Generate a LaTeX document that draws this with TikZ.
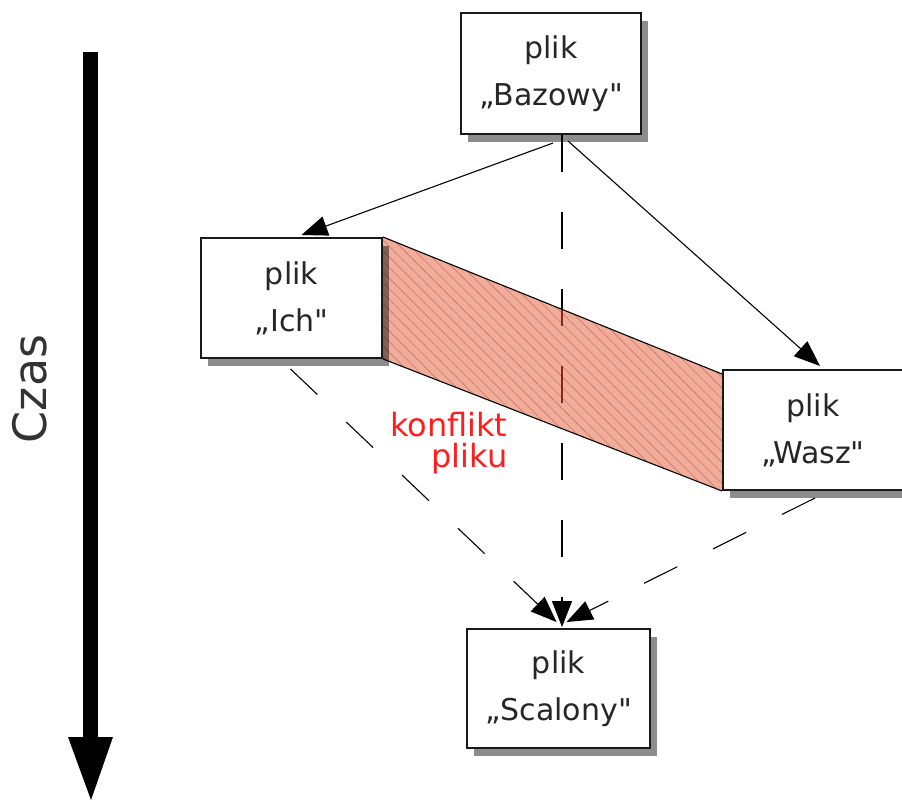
\documentclass[tikz,border=0pt]{standalone}
\usepackage{fontspec}
\setmainfont{DejaVu Sans}[Ligatures=TeXOff]
\usetikzlibrary{arrows.meta,shadows,patterns.meta,calc}
\pgfdeclarelayer{background}
\pgfsetlayers{background,main}
\definecolor{bandfill}{RGB}{242,172,154}
\definecolor{hatch}{RGB}{200,120,105}
\definecolor{confred}{RGB}{255,30,30}
\definecolor{dashinband}{RGB}{130,40,30}
\begin{document}
\begin{tikzpicture}[x=1pt,y=-1pt,
  filebox/.style={draw=black!90, line width=2pt, fill=white, inner sep=0pt, align=center,
    text=black!85, font=\fontsize{30}{47}\selectfont,
    general shadow={fill=black, opacity=0.45, shadow xshift=7pt, shadow yshift=-8pt}},
  solidarrow/.style={line width=1.1pt, -{Triangle[length=26pt,width=20pt]}},
  dasharrow/.style={solidarrow, dash pattern=on 37pt off 40pt},
  bandedge/.style={line width=1.1pt, draw=black},
]
\useasboundingbox (0,0) rectangle (902,801);

% time arrow
\fill (83,52) rectangle (98,738);
\fill (68,737) -- (113,737) -- (91,800) -- cycle;
\node[rotate=90, font=\fontsize{46}{46}\selectfont, text=black!80] (czas) at (30,389) {Czas};

% file boxes
\node[filebox, minimum width=180pt, minimum height=121pt] (baz) at (551,73.5) {plik\\„Bazowy"};
\node[filebox, minimum width=181pt, minimum height=120pt] (ich) at (291.5,298) {plik\\„Ich"};
\node[filebox, minimum width=180pt, minimum height=120pt] (wasz) at (813,430) {plik\\„Wasz"};
\node[filebox, minimum width=183pt, minimum height=119pt] (scal) at (558.5,688.5) {plik\\„Scalony"};

\node[font=\fontsize{32}{31}\selectfont, text=confred, align=right, anchor=east] (conf) at (511,443) {konflikt\\pliku};

\begin{pgfonlayer}{background}
  \draw[dasharrow] ($(baz.south)+(11,0)$) -- ($(scal.north)+(3.5,-1)$);
  \draw[dasharrow] ($(ich.south)+(-1,10)$) -- ($(scal.north)+(-2,-6)$);
  \draw[dasharrow] ($(wasz.south)+(2,7)$) -- ($(scal.north)+(8,-6)$);
  \fill[bandfill] (ich.north east) -- ($(wasz.north west)+(0,5)$) -- (wasz.south west) -- (ich.south east) -- cycle;
  \fill[pattern={Lines[angle=-45,distance=7.5pt,line width=0.6pt]}, pattern color=hatch]
    (ich.north east) -- ($(wasz.north west)+(0,5)$) -- (wasz.south west) -- (ich.south east) -- cycle;
  \begin{scope}
    \clip (ich.north east) -- ($(wasz.north west)+(0,5)$) -- (wasz.south west) -- (ich.south east) -- cycle;
    \draw[line width=1.1pt, draw=dashinband, dash pattern=on 37pt off 40pt] ($(baz.south)+(11,0)$) -- ($(scal.north)+(3.5,-1)$);
  \end{scope}
  \draw[bandedge] (ich.north east) -- ($(wasz.north west)+(0,5)$);
  \draw[bandedge] (ich.south east) -- (wasz.south west);
\end{pgfonlayer}

\draw[solidarrow] ($(baz.south)+(2,8)$) -- ($(ich.north)+(10,-2)$);
\draw[solidarrow] ($(baz.south)+(17,6)$) -- ($(wasz.north)+(7,-3)$);
\end{tikzpicture}
\end{document}
